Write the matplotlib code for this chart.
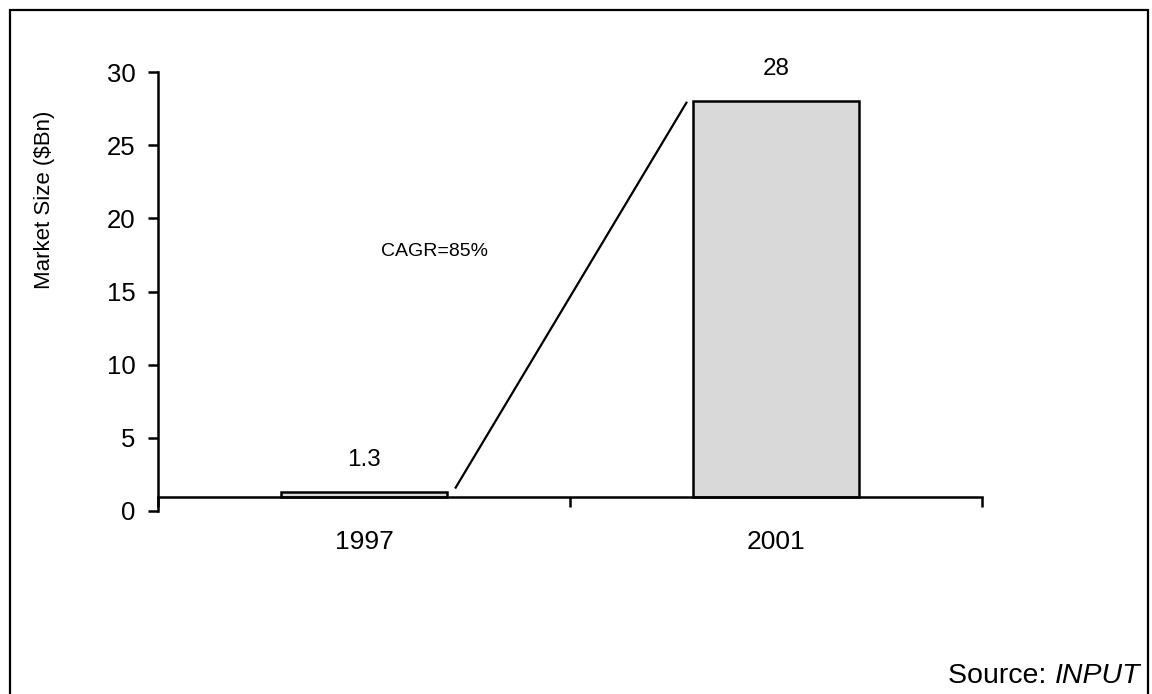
import matplotlib
matplotlib.use('Agg')
import matplotlib.pyplot as plt
from matplotlib.patches import Rectangle

plt.rcParams['font.family'] = ['Liberation Sans', 'DejaVu Sans']

years = ['1997', '2001']
market_size = [1.3, 28]
value_labels = ['1.3', '28']
cagr_label = 'CAGR=85%'
y_ticks = [0, 5, 10, 15, 20, 25, 30]

base = 0.95      # x-axis sits a little above zero in the original
bar_w = 0.405

fig = plt.figure(figsize=(11.52, 6.94), dpi=100, facecolor='white')
ax = fig.add_axes([158/1152, 1 - 511/694, (982 - 158)/1152, (511 - 72)/694])

xs = list(range(len(years)))
ax.bar(xs, [v - base for v in market_size], bottom=base, width=bar_w,
       color='#d9d9d9', edgecolor='black', linewidth=1.8, zorder=2)

for x, v, lab in zip(xs, market_size, value_labels):
    ax.annotate(lab, xy=(x, v), xytext=(0, 15), textcoords='offset points',
                ha='center', va='bottom', fontsize=17.5)

# growth line between the bars
x0 = xs[0] + bar_w / 2 + 0.02
x1 = xs[1] - bar_w / 2 - 0.015
ax.plot([x0, x1], [market_size[0] + 0.3, market_size[1] - 0.1],
        color='black', linewidth=1.6, zorder=3)
ax.text(0.17, 17.7, cagr_label, ha='center', va='center', fontsize=14)

ax.set_xlim(-0.5, 1.5)
ax.set_ylim(0, 30)
ax.set_yticks(y_ticks)
ax.set_xticks(xs)
ax.set_xticklabels(years)
ax.set_xticks([-0.5, 0.5, 1.5], minor=True)

ax.spines['top'].set_visible(False)
ax.spines['right'].set_visible(False)
ax.spines['bottom'].set_position(('data', base))
ax.spines['left'].set_bounds(0, 30)
for s in ('left', 'bottom'):
    ax.spines[s].set_linewidth(1.8)

ax.tick_params(axis='y', direction='out', length=7, width=1.8, pad=9, labelsize=18.5)
ax.tick_params(axis='x', which='major', length=0, pad=24, labelsize=19)
ax.tick_params(axis='x', which='minor', direction='out', length=7, width=1.8)

fig.text(45/1152, 1 - 200/694, 'Market Size ($Bn)', rotation=90,
         ha='center', va='center', fontsize=16)

# source note: plain "Source:" followed by italic INPUT
t_in = fig.text(1140/1152, 1 - 689/694, 'INPUT', style='italic',
                ha='right', va='bottom', fontsize=20.5)
ax.annotate('Source: ', xy=(0, 0), xycoords=t_in, ha='right', va='bottom',
            fontsize=20.5, annotation_clip=False)

# figure frame
fig.patches.append(Rectangle((10/1152, -0.02), (1148 - 10)/1152, 1.02 - 10/694,
                             transform=fig.transFigure, fill=False,
                             edgecolor='black', linewidth=1.6))

fig.savefig('out.png', dpi=100, facecolor='white')
